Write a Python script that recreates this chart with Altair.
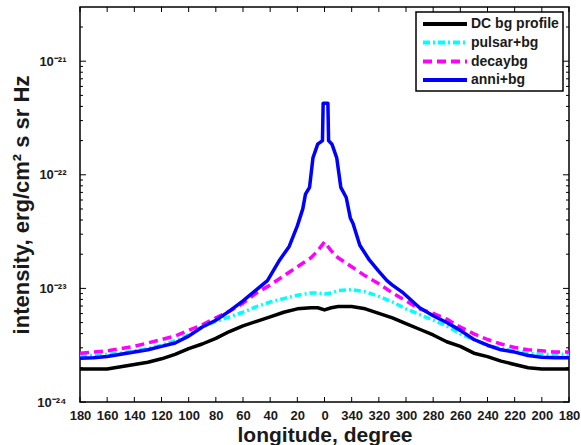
import altair as alt
import pandas as pd

FONT = "Liberation Sans"

SERIES = ["DC bg profile", "pulsar+bg", "decaybg", "anni+bg"]
COLORS = ["#000000", "#00ffff", "#ff00ff", "#0000ff"]
DASHES = [None, [7, 3, 2, 3], [9, 5], None]

# longitude grid (degrees, 180 .. 0 .. -180 i.e. 180 .. 0 .. 340 .. 180)
LON = [180, 170, 160, 150, 140, 130, 120, 110, 100, 90, 80, 70, 60, 50, 40, 30, 20, 10, 5, 0,
       -5, -10, -20, -30, -40, -50, -60, -70, -80, -90, -100, -110, -120, -130, -140, -150,
       -160, -170, -180]

DC_BG = [1.95e-24, 1.95e-24, 1.95e-24, 2.04e-24, 2.14e-24, 2.24e-24, 2.40e-24, 2.63e-24,
         2.95e-24, 3.24e-24, 3.63e-24, 4.17e-24, 4.68e-24, 5.13e-24, 5.62e-24, 6.17e-24,
         6.61e-24, 6.76e-24, 6.76e-24, 6.46e-24, 6.76e-24, 6.92e-24, 6.92e-24, 6.61e-24,
         6.03e-24, 5.50e-24, 4.90e-24, 4.37e-24, 3.89e-24, 3.39e-24, 3.09e-24, 2.69e-24,
         2.51e-24, 2.29e-24, 2.14e-24, 2.00e-24, 1.95e-24, 1.95e-24, 1.95e-24]

PULSAR = [2.57e-24, 2.57e-24, 2.63e-24, 2.69e-24, 2.82e-24, 2.95e-24, 3.16e-24, 3.47e-24,
          3.89e-24, 4.57e-24, 5.13e-24, 5.62e-24, 6.17e-24, 6.92e-24, 7.59e-24, 8.13e-24,
          8.71e-24, 9.12e-24, 9.12e-24, 8.91e-24, 9.12e-24, 9.55e-24, 9.77e-24, 9.33e-24,
          8.51e-24, 7.59e-24, 6.61e-24, 5.89e-24, 5.25e-24, 4.68e-24, 3.98e-24, 3.55e-24,
          3.16e-24, 2.95e-24, 2.82e-24, 2.69e-24, 2.63e-24, 2.63e-24, 2.63e-24]

DECAY = [2.69e-24, 2.75e-24, 2.82e-24, 2.95e-24, 3.09e-24, 3.31e-24, 3.55e-24, 3.80e-24,
         4.27e-24, 4.79e-24, 5.50e-24, 6.31e-24, 7.41e-24, 9.12e-24, 1.07e-23, 1.29e-23,
         1.55e-23, 1.86e-23, 2.14e-23, 2.57e-23, 2.14e-23, 1.86e-23, 1.55e-23, 1.29e-23,
         1.10e-23, 9.12e-24, 7.76e-24, 6.61e-24, 6.03e-24, 5.37e-24, 4.57e-24, 3.98e-24,
         3.55e-24, 3.24e-24, 3.02e-24, 2.88e-24, 2.82e-24, 2.75e-24, 2.75e-24]

ANNI_LON = [180, 170, 160, 150, 140, 130, 120, 110, 100, 90, 80, 70, 60, 50, 42, 33, 26, 20,
            16, 14, 11, 8.5, 5, 1.5, 1, -2.5, -3, -5.5, -9, -12, -16, -19, -21, -26, -33, -40,
            -46, -50, -58, -70, -80, -90, -100, -110, -120, -130, -140, -150, -160, -170, -180]
ANNI = [2.43e-24, 2.45e-24, 2.51e-24, 2.63e-24, 2.75e-24, 2.88e-24, 3.09e-24, 3.31e-24,
        3.80e-24, 4.57e-24, 5.25e-24, 6.31e-24, 7.76e-24, 9.77e-24, 1.17e-23, 1.78e-23,
        2.34e-23, 3.55e-23, 5.01e-23, 6.76e-23, 7.76e-23, 1.41e-22, 1.86e-22, 2.00e-22,
        4.27e-22, 4.27e-22, 2.00e-22, 1.86e-22, 1.41e-22, 7.76e-23, 6.31e-23, 4.17e-23,
        3.72e-23, 2.40e-23, 1.78e-23, 1.41e-23, 1.17e-23, 1.07e-23, 9.12e-24, 6.76e-24,
        5.75e-24, 5.01e-24, 4.27e-24, 3.55e-24, 3.16e-24, 2.88e-24, 2.75e-24, 2.57e-24,
        2.48e-24, 2.45e-24, 2.45e-24]

X_TICKS = [180, 160, 140, 120, 100, 80, 60, 40, 20, 0, -20, -40, -60, -80, -100, -120,
           -140, -160, -180]
Y_MAJOR = [1e-24, 1e-23, 1e-22, 1e-21]
Y_MINOR = [2e-24, 3e-24, 4e-24, 5e-24, 6e-24, 7e-24, 8e-24, 9e-24,
           2e-23, 3e-23, 4e-23, 5e-23, 6e-23, 7e-23, 8e-23, 9e-23,
           2e-22, 3e-22, 4e-22, 5e-22, 6e-22, 7e-22, 8e-22, 9e-22,
           2e-21]

W, H = 489, 395

xscale = alt.Scale(domain=[-180, 180], reverse=True, nice=False, zero=False)
yscale = alt.Scale(type="log", domain=[1e-24, 3e-21], nice=False)

x_axis = alt.Axis(values=X_TICKS, labelExpr="datum.value < 0 ? datum.value + 360 : datum.value",
                  ticks=False, tickSize=0, domain=False, grid=False, labelPadding=7,
                  labelFontSize=13, labelFontWeight="bold", labelFont=FONT,
                  labelColor="#1a1a1a", labelFlush=False, labelOverlap=False,
                  title="longitude, degree", titleFontSize=21, titleFont=FONT,
                  titleFontWeight="bold", titleColor="#1a1a1a", titlePadding=2)
y_axis = alt.Axis(values=Y_MAJOR,
                  labelExpr="datum.value < 5e-24 ? '10⁻²⁴' : datum.value < 5e-23 ? '10⁻²³' : datum.value < 5e-22 ? '10⁻²²' : '10⁻²¹'",
                  ticks=False, tickSize=0, domain=False, grid=False, labelPadding=14,
                  labelFontSize=13, labelFontWeight="bold", labelFont=FONT,
                  labelColor="#1a1a1a", labelFlush=False, labelOverlap=False,
                  title="intensity, erg/cm² s sr Hz", titleFontSize=22, titleFont=FONT,
                  titleFontWeight="bold", titleColor="#1a1a1a", titlePadding=3)

X_ENC = alt.X("lon:Q", scale=xscale, axis=x_axis)


def y_enc(field):
    return alt.Y(field, scale=yscale, axis=y_axis)


layers = []

# data lines
line_data = [
    pd.DataFrame({"lon": LON, "val": DC_BG}),
    pd.DataFrame({"lon": LON, "val": PULSAR}),
    pd.DataFrame({"lon": LON, "val": DECAY}),
    pd.DataFrame({"lon": ANNI_LON, "val": ANNI}),
]
for i, df in enumerate(line_data):
    props = dict(color=COLORS[i], strokeWidth=3.5, clip=True, strokeCap="butt", strokeJoin="round")
    if DASHES[i]:
        props["strokeDash"] = DASHES[i]
    layers.append(alt.Chart(df).transform_window(idx="row_number()").mark_line(**props).encode(
        x=X_ENC, y=y_enc("val:Q"), order=alt.Order("idx:Q")))

# tick marks drawn inward, Matlab style
xt = pd.DataFrame({"lon": X_TICKS})
ymaj = pd.DataFrame({"v": Y_MAJOR})
ymin = pd.DataFrame({"v": Y_MINOR})
tick_style = dict(color="black", strokeWidth=1)
layers.append(alt.Chart(xt).mark_rule(**tick_style).encode(
    x=X_ENC, y=alt.value(H), y2=alt.value(H - 5)))
layers.append(alt.Chart(xt).mark_rule(**tick_style).encode(
    x=X_ENC, y=alt.value(0), y2=alt.value(5)))
for df, ln in ((ymaj, 6), (ymin, 3)):
    layers.append(alt.Chart(df).mark_rule(**tick_style).encode(
        y=y_enc("v:Q"), x=alt.value(0), x2=alt.value(ln)))
    layers.append(alt.Chart(df).mark_rule(**tick_style).encode(
        y=y_enc("v:Q"), x=alt.value(W), x2=alt.value(W - ln)))

# legend box
legend_df = pd.DataFrame({"series": SERIES})
layers.append(alt.Chart(pd.DataFrame({"k": [0]})).mark_rect(
    fill="white", stroke="black", strokeWidth=1.5).encode(
    x=alt.value(336), x2=alt.value(483), y=alt.value(5), y2=alt.value(84)))
LEG_Y = [17, 35.5, 54.5, 73]
for i, name in enumerate(SERIES):
    props = dict(color=COLORS[i], strokeWidth=4, strokeCap="butt")
    if DASHES[i]:
        props["strokeDash"] = DASHES[i]
    layers.append(alt.Chart(legend_df).transform_filter(alt.datum.series == name).mark_rule(**props).encode(
        x=alt.value(343), x2=alt.value(387), y=alt.value(LEG_Y[i])))
    layers.append(alt.Chart(legend_df).transform_filter(alt.datum.series == name).mark_text(
        align="left", baseline="middle", font=FONT, fontSize=14, fontWeight="bold",
        color="#1a1a1a").encode(
        x=alt.value(391), y=alt.value(LEG_Y[i]), text="series:N"))

chart = alt.layer(*layers).properties(
    width=W, height=H,
    padding={"left": 80, "top": 7, "right": 12, "bottom": 43},
    autosize=alt.AutoSizeParams(type="none"),
    background="white",
).configure_view(stroke="black", strokeWidth=1.5)

chart.save("out.html", embed_options={"renderer": "svg", "actions": False})
